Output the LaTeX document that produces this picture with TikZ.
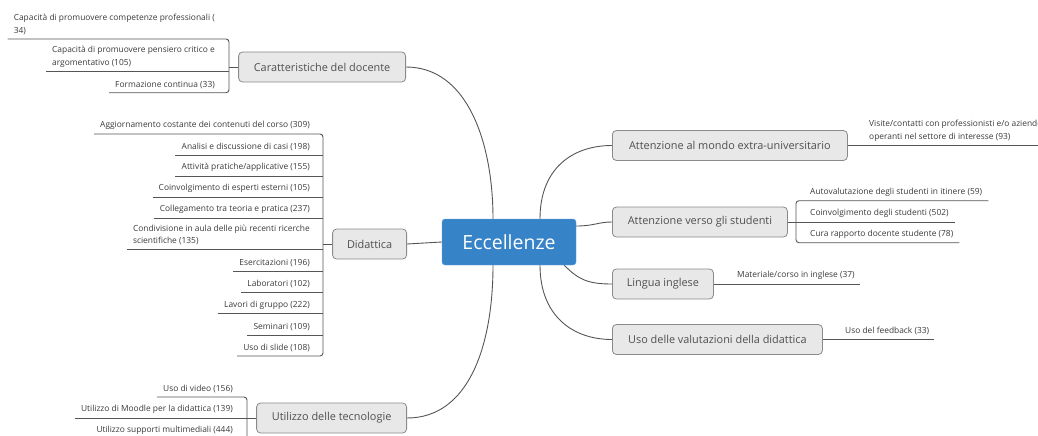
\documentclass[tikz,border=0pt]{standalone}
\usepackage{fontspec}
\setmainfont{Open Sans}
\usetikzlibrary{backgrounds}
\definecolor{linec}{HTML}{555555}
\definecolor{topicfill}{HTML}{E8E8E8}
\definecolor{topicdraw}{HTML}{8A8A8A}
\definecolor{topictext}{HTML}{505050}
\definecolor{leaftext}{HTML}{3A3A3A}
\definecolor{centralfill}{HTML}{3683C8}
\tikzset{
  central/.style={draw=centralfill!75!white, fill=centralfill, rounded corners=3pt, text=white,
    font=\fontsize{19.5}{22}\selectfont, minimum width=134pt, minimum height=46pt, inner sep=0pt},
  topic/.style={draw=topicdraw, fill=topicfill, rounded corners=4pt, text=topictext,
    font=\fontsize{10.9}{13}\selectfont, minimum height=30pt, inner sep=0pt, line width=0.8pt},
  leaf/.style={text=leaftext, font=\fontsize{8.4}{12.5}\selectfont, inner xsep=0pt, inner ysep=4pt, align=left},
  conn/.style={draw=linec, line width=0.9pt},
  ul/.style={draw=linec, line width=0.9pt},
  brk/.style={draw=linec, line width=0.9pt, rounded corners=3pt},
}
\begin{document}
\begin{tikzpicture}[x=1pt,y=-1pt]
\useasboundingbox (0,0) rectangle (1038,436);
% central and topics
\node[central] (C) at (509,242) {Eccellenze};
\node[topic, minimum width=167pt, anchor=east] (car) at (406,67) {Caratteristiche del docente};
\node[topic, minimum width=74pt, anchor=east] (did) at (407,244) {Didattica};
\node[topic, minimum width=150pt, anchor=east] (tec) at (407,418) {Utilizzo delle tecnologie};
\node[topic, minimum width=235pt, anchor=west] (mon) at (612,145.5) {Attenzione al mondo extra-universitario};
\node[topic, minimum width=175pt, anchor=west] (stu) at (612,222) {Attenzione verso gli studenti};
\node[topic, minimum width=101pt, anchor=west] (ing) at (612,284) {Lingua inglese};
\node[topic, minimum width=210pt, anchor=west] (val) at (612,339.5) {Uso delle valutazioni della didattica};

% bracket positions
\coordinate (bK) at (229,0);
\coordinate (bD) at (323,0);
\coordinate (bT) at (247,0);
\coordinate (bS) at (796,0);

% Caratteristiche leaves
\node[leaf, anchor=south east] (k1) at (215,39) {Capacità di promuovere competenze professionali (\\34)};
\node[leaf, anchor=south east] (k2) at (215,71.5) {Capacità di promuovere pensiero critico e\\argomentativo (105)};
\node[leaf, anchor=south east] (k3) at (215,92.7) {Formazione continua (33)};

% Didattica leaves
\node[leaf, anchor=south east] (d1) at (310,134) {Aggiornamento costante dei contenuti del corso (309)};
\node[leaf, anchor=south east] (d2) at (310,155) {Analisi e discussione di casi (198)};
\node[leaf, anchor=south east] (d3) at (310,176) {Attività pratiche/applicative (155)};
\node[leaf, anchor=south east] (d4) at (310,197) {Coinvolgimento di esperti esterni (105)};
\node[leaf, anchor=south east] (d5) at (310,218) {Collegamento tra teoria e pratica (237)};
\node[leaf, anchor=south east] (d6) at (310,249.5) {Condivisione in aula delle più recenti ricerche\\scientifiche (135)};
\node[leaf, anchor=south east] (d7) at (310,271) {Esercitazioni (196)};
\node[leaf, anchor=south east] (d8) at (310,292.5) {Laboratori (102)};
\node[leaf, anchor=south east] (d9) at (310,313.5) {Lavori di gruppo (222)};
\node[leaf, anchor=south east] (d10) at (310,335) {Seminari (109)};
\node[leaf, anchor=south east] (d11) at (310,356) {Uso di slide (108)};

% Tecnologie leaves
\node[leaf, anchor=south east] (t1) at (233,397) {Uso di video (156)};
\node[leaf, anchor=south east] (t2) at (233,418) {Utilizzo di Moodle per la didattica (139)};
\node[leaf, anchor=south east] (t3) at (233,439) {Utilizzo supporti multimediali (444)};

% Right leaves
\node[leaf, anchor=south west] (v1) at (869,145.5) {Visite/contatti con professionisti e/o aziende\\operanti nel settore di interesse (93)};
\node[leaf, anchor=south west] (s1) at (810,200.7) {Autovalutazione degli studenti in itinere (59)};
\node[leaf, anchor=south west] (s2) at (810,222) {Coinvolgimento degli studenti (502)};
\node[leaf, anchor=south west] (s3) at (810,242.7) {Cura rapporto docente studente (78)};
\node[leaf, anchor=south west] (i1) at (737,284) {Materiale/corso in inglese (37)};
\node[leaf, anchor=south west] (u1) at (845,339.5) {Uso del feedback (33)};

\begin{scope}[on background layer]
% central connectors
\draw[conn] ([xshift=-16pt]C.north) .. controls ([xshift=-16pt,yshift=75pt]C.north) and ([xshift=62pt]car.east) .. (car.east);
\draw[conn] (did.east) -- (C.west);
\draw[conn] ([xshift=-16pt]C.south) .. controls ([xshift=-16pt,yshift=-80pt]C.south) and ([xshift=62pt]tec.east) .. (tec.east);
\draw[conn] ([xshift=31pt]C.north) .. controls ([xshift=31pt,yshift=50pt]C.north) and ([xshift=-40pt]mon.west) .. (mon.west);
\draw[conn] ([yshift=16pt]C.east) .. controls ([xshift=18pt,yshift=16pt]C.east) and ([xshift=-14pt]stu.west) .. (stu.west);
\draw[conn] ([xshift=-12pt]C.south east) .. controls ([xshift=2pt,yshift=-14pt]C.south east) and ([xshift=-25pt]ing.west) .. (ing.west);
\draw[conn] ([xshift=31pt]C.south) .. controls ([xshift=31pt,yshift=-50pt]C.south) and ([xshift=-40pt]val.west) .. (val.west);
\end{scope}

% Caratteristiche group
\draw[conn] (car.west) -- (car.west -| bK);
\draw[brk] ([xshift=-6pt]k1.south west) -- (k1.south -| bK) -- (k3.south -| bK) -- ([xshift=-6pt]k3.south west);
\draw[ul] ([xshift=-6pt]k2.south west) -- (k2.south -| bK);

% Didattica group
\draw[conn] (did.west) -- (did.west -| bD);
\draw[brk] ([xshift=-6pt]d1.south west) -- (d1.south -| bD) -- (d11.south -| bD) -- ([xshift=-6pt]d11.south west);
\foreach \n in {d2,d3,d4,d5,d6,d7,d8,d9,d10}
  \draw[ul] ([xshift=-6pt]\n.south west) -- (\n.south -| bD);

% Tecnologie group
\draw[conn] (tec.west) -- (tec.west -| bT);
\draw[brk] ([xshift=-6pt]t1.south west) -- (t1.south -| bT) -- (t3.south -| bT) -- ([xshift=-6pt]t3.south west);
\draw[ul] ([xshift=-6pt]t2.south west) -- (t2.south -| bT);

% Studenti group
\draw[conn] (stu.east) -- (stu.east -| bS);
\draw[brk] ([xshift=6pt]s1.south east) -- (s1.south -| bS) -- (s3.south -| bS) -- ([xshift=6pt]s3.south east);
\draw[ul] (s2.south -| bS) -- ([xshift=6pt]s2.south east);

% single-child topics
\draw[ul] (mon.east) -- ([xshift=6pt]v1.south east);
\draw[ul] (ing.east) -- ([xshift=5pt]i1.south east);
\draw[ul] (val.east) -- ([xshift=5pt]u1.south east);
\end{tikzpicture}
\end{document}
